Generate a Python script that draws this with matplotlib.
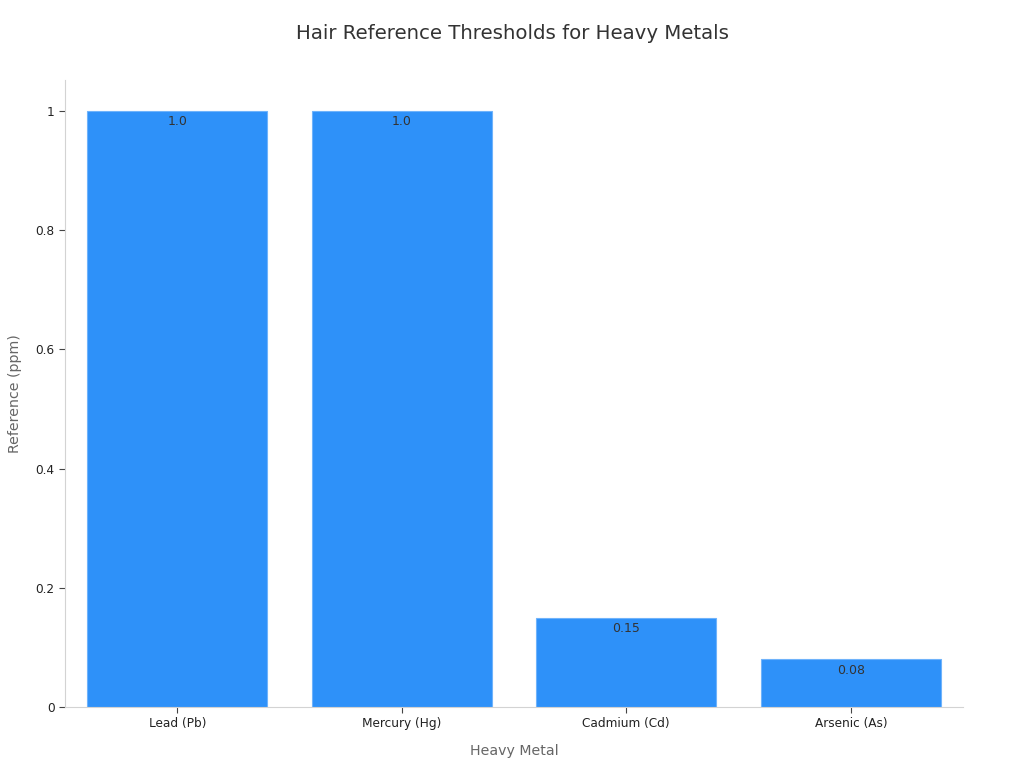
import matplotlib
matplotlib.use("Agg")
from matplotlib import pyplot as plt
import numpy as np

METALS = ["Lead (Pb)", "Mercury (Hg)", "Cadmium (Cd)", "Arsenic (As)"]
THRESHOLDS = [1.0, 1.0, 0.15, 0.08]
VALUE_LABELS = ["1.0", "1.0", "0.15", "0.08"]

BAR_COLOR = "#2E91F9"
SPINE_COLOR = "#D3D3D3"


def main():
    fig = plt.figure(figsize=(10.24, 7.68), dpi=100)
    ax = fig.add_axes([0.0635, 0.0794, 0.877, 0.8164])

    x = np.arange(len(METALS))
    bars = ax.bar(x, THRESHOLDS, width=0.8, color=BAR_COLOR,
                  edgecolor="#6FB3FB", linewidth=0.8)

    for bar, lab in zip(bars, VALUE_LABELS):
        ax.annotate(lab, (bar.get_x() + bar.get_width() / 2, bar.get_height()),
                    xytext=(0, -3), textcoords="offset points",
                    ha="center", va="top", fontsize=9, color="#333333")

    ax.set_xlim(-0.5, 3.5)
    ax.set_ylim(0, 1.052)
    ax.set_xticks(x)
    ax.set_xticklabels(METALS)
    ax.set_yticks([0, 0.2, 0.4, 0.6, 0.8, 1.0])
    ax.set_yticklabels(["0", "0.2", "0.4", "0.6", "0.8", "1"])
    ax.tick_params(labelsize=8.7, colors="#222222", length=4, width=0.8)
    ax.tick_params(axis="both", color="#444444")

    for side in ["top", "right"]:
        ax.spines[side].set_visible(False)
    for side in ["left", "bottom"]:
        ax.spines[side].set_color(SPINE_COLOR)
        ax.spines[side].set_linewidth(0.8)

    ax.set_xlabel("Heavy Metal", fontsize=10.2, color="#666666", labelpad=10)
    ax.set_ylabel("Reference (ppm)", fontsize=10.2, color="#666666", labelpad=10)
    fig.text(0.5, 0.957, "Hair Reference Thresholds for Heavy Metals",
             ha="center", va="center", fontsize=14.2, color="#333333")

    fig.savefig("out.png", dpi=100)


if __name__ == '__main__':
    main()
